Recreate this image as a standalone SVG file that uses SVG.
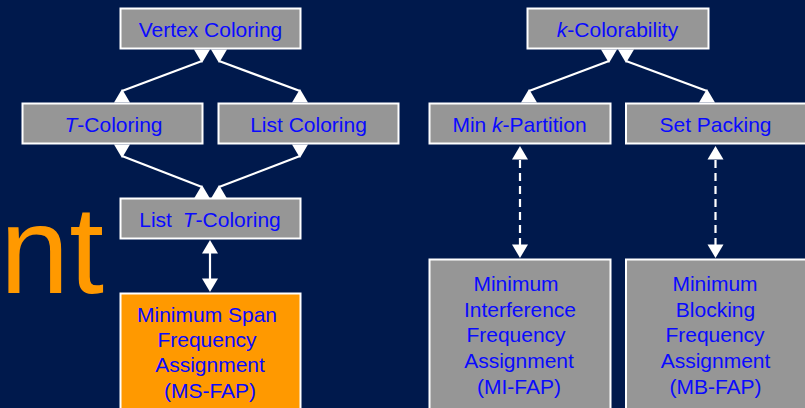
<svg xmlns="http://www.w3.org/2000/svg" xmlns:xlink="http://www.w3.org/1999/xlink" width="805" height="408" viewBox="0 0 805 408">
  <style>
    .box { fill: #969696; stroke: #FFFFFF; stroke-width: 2; }
    .obox { fill: #FF9900; stroke: #FFFFFF; stroke-width: 2; }
    .lbl { font-family: "Liberation Sans", Arial, sans-serif; font-size: 21px; fill: #0A0AFF; text-anchor: middle; }
    .it { font-style: italic; }
    .ln { stroke: #FFFFFF; stroke-width: 2.2; fill: none; }
    .dash { stroke-dasharray: 8 5; }
    .head { fill: #FFFFFF; }
    .big { font-family: "Liberation Sans", Arial, sans-serif; font-size: 125px; fill: #FF9900; text-anchor: end; }
  </style>
  <defs>
    <path id="up" class="head" d="M0,0 L8,13.5 L-8,13.5 Z"/>
    <path id="down" class="head" d="M0,0 L8,-13.5 L-8,-13.5 Z"/>
  </defs>
  <rect width="805" height="408" fill="#00194C"/>
  <text class="big" x="104" y="293">nt</text>

  <g id="connectors">
    <line class="ln" x1="202" y1="61" x2="122" y2="91"/>
    <line class="ln" x1="219" y1="61" x2="300" y2="91"/>
    <line class="ln" x1="122" y1="156" x2="202" y2="187"/>
    <line class="ln" x1="300" y1="156" x2="219" y2="187"/>
    <line class="ln" x1="609" y1="61" x2="529" y2="91"/>
    <line class="ln" x1="626" y1="61" x2="707" y2="91"/>
    <use xlink:href="#down" x="202" y="63"/>
    <use xlink:href="#down" x="219" y="63"/>
    <use xlink:href="#up" x="122" y="89"/>
    <use xlink:href="#up" x="300" y="89"/>
    <use xlink:href="#down" x="122" y="158"/>
    <use xlink:href="#down" x="300" y="158"/>
    <use xlink:href="#up" x="202" y="185"/>
    <use xlink:href="#up" x="219" y="185"/>
    <use xlink:href="#down" x="609" y="63"/>
    <use xlink:href="#down" x="626" y="63"/>
    <use xlink:href="#up" x="529" y="89"/>
    <use xlink:href="#up" x="707" y="89"/>
    <line class="ln" x1="210" y1="252" x2="210" y2="280"/>
    <use xlink:href="#up" x="210" y="240"/>
    <use xlink:href="#down" x="210" y="292"/>
    <line class="ln dash" x1="520" y1="160" x2="520" y2="245"/>
    <use xlink:href="#up" x="520" y="146"/>
    <use xlink:href="#down" x="520" y="258"/>
    <line class="ln dash" x1="715.5" y1="160" x2="715.5" y2="245"/>
    <use xlink:href="#up" x="715.5" y="146"/>
    <use xlink:href="#down" x="715.5" y="258"/>
  </g>

  <g id="vertex-coloring">
    <rect class="box" x="120.5" y="8.5" width="180" height="40"/>
    <text class="lbl" x="210.5" y="36.5">Vertex Coloring</text>
  </g>
  <g id="t-coloring">
    <rect class="box" x="22.5" y="103.5" width="180" height="40"/>
    <text class="lbl" x="113.5" y="131.5"><tspan class="it">T</tspan>-Coloring</text>
  </g>
  <g id="list-coloring">
    <rect class="box" x="218.5" y="103.5" width="180" height="40"/>
    <text class="lbl" x="308.5" y="131.5">List Coloring</text>
  </g>
  <g id="list-t-coloring">
    <rect class="box" x="120.5" y="198.5" width="180" height="40"/>
    <text class="lbl" x="210" y="226.5">List <tspan class="it" dx="5">T</tspan>-Coloring</text>
  </g>
  <g id="ms-fap">
    <rect class="obox" x="120.5" y="293.5" width="180" height="130"/>
    <text class="lbl" x="207" y="321.5">Minimum Span</text>
    <text class="lbl" x="207" y="346.8">Frequency</text>
    <text class="lbl" x="210" y="372.2">Assignment</text>
    <text class="lbl" x="210" y="397.5">(MS-FAP)</text>
  </g>
  <g id="k-colorability">
    <rect class="box" x="527.5" y="8.5" width="181" height="40"/>
    <text class="lbl" x="617.5" y="36.5"><tspan class="it">k</tspan>-Colorability</text>
  </g>
  <g id="min-k-partition">
    <rect class="box" x="429.5" y="103.5" width="181" height="40"/>
    <text class="lbl" x="519.5" y="131.5">Min <tspan class="it">k</tspan>-Partition</text>
  </g>
  <g id="set-packing">
    <rect class="box" x="626" y="103.5" width="181" height="40"/>
    <text class="lbl" x="715.5" y="131.5">Set Packing</text>
  </g>
  <g id="mi-fap">
    <rect class="box" x="429.5" y="259.5" width="181" height="160"/>
    <text class="lbl" x="516" y="290.7">Minimum</text>
    <text class="lbl" x="520" y="316.5">Interference</text>
    <text class="lbl" x="516" y="342.3">Frequency</text>
    <text class="lbl" x="519" y="368">Assignment</text>
    <text class="lbl" x="519" y="393.5">(MI-FAP)</text>
  </g>
  <g id="mb-fap">
    <rect class="box" x="626" y="259.5" width="181" height="160"/>
    <text class="lbl" x="715" y="290.7">Minimum</text>
    <text class="lbl" x="715.5" y="316.5">Blocking</text>
    <text class="lbl" x="715" y="342.3">Frequency</text>
    <text class="lbl" x="715.5" y="368">Assignment</text>
    <text class="lbl" x="715.5" y="393.5">(MB-FAP)</text>
  </g>
</svg>
